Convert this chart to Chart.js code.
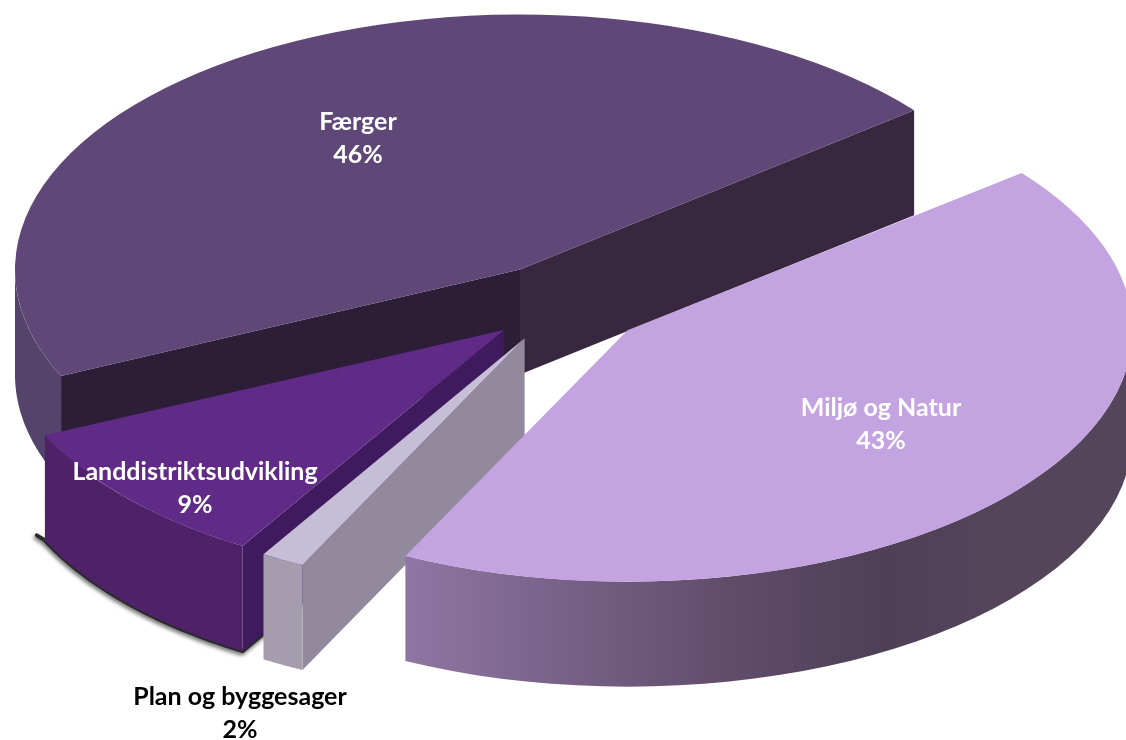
<!DOCTYPE html>
<html>
<head>
<meta charset="utf-8">
<style>
  html, body { margin: 0; background: #fff; }
  canvas { display: block; }
</style>
<script src="https://cdn.jsdelivr.net/npm/chart.js@4"></script>
</head>
<body>
<canvas id="pie" width="1126" height="740"></canvas>
<script>
const categories = ['Miljø og Natur', 'Plan og byggesager', 'Landdistriktsudvikling', 'Færger'];
const shares = [43, 1.4, 9.5, 46.1];
const shareLabels = ['43%', '2%', '9%', '46%'];

const topColors = ['#c3a3e0', '#c6bdd6', '#602a87', '#5f4878'];
const cutColors = [null, '#928a9c', '#3f1a5e', '#2c1e36'];
const backCutColor = '#37283f';
const labelColors = ['#fff', '#000', '#fff', '#fff'];
const labelSpots = [[881, 424], [240, 713], [195, 488], [358, 138]];
const squash = [0.498, 0.5, 0.5, 0.505];
const explode = [84, 78, 78, 80];

const DEPTH = 105;

function outerFill(ctx, i) {
  if (i === 0) {
    const g = ctx.createLinearGradient(407, 0, 1000, 0);
    g.addColorStop(0, '#8f76a3');
    g.addColorStop(0.55, '#5f4c6a');
    g.addColorStop(0.8, '#4f3f57');
    g.addColorStop(1, '#54455b');
    return g;
  }
  if (i === 1) return '#a59dae';
  if (i === 2) return '#4f2169';
  return '#54436a';
}

function centre(el, i) {
  const mid = (el.startAngle + el.endAngle) / 2;
  return {
    x: el.x + Math.cos(mid) * explode[i],
    y: el.y + Math.sin(mid) * explode[i] * squash[i]
  };
}

function rimPoint(c, el, a, i, drop) {
  return {
    x: c.x + Math.cos(a) * el.outerRadius,
    y: c.y + drop + Math.sin(a) * el.outerRadius * squash[i]
  };
}

function drawCut(ctx, c, el, a, i, fill) {
  const p = rimPoint(c, el, a, i, 0);
  ctx.fillStyle = fill;
  ctx.beginPath();
  ctx.moveTo(c.x, c.y);
  ctx.lineTo(p.x, p.y);
  ctx.lineTo(p.x, p.y + DEPTH);
  ctx.lineTo(c.x, c.y + DEPTH);
  ctx.closePath();
  ctx.fill();
}

function visibleRange(el) {
  let a0 = el.startAngle, a1 = el.endAngle;
  while (a0 < -Math.PI) { a0 += Math.PI * 2; a1 += Math.PI * 2; }
  return [Math.max(a0, 0), Math.min(a1, Math.PI)];
}

function drawOuter(ctx, c, el, i) {
  const [a0, a1] = visibleRange(el);
  if (a1 <= a0) return;
  ctx.fillStyle = outerFill(ctx, i);
  ctx.beginPath();
  for (let k = 0; k <= 40; k++) {
    const p = rimPoint(c, el, a0 + (a1 - a0) * k / 40, i, 0);
    ctx.lineTo(p.x, p.y);
  }
  for (let k = 40; k >= 0; k--) {
    const p = rimPoint(c, el, a0 + (a1 - a0) * k / 40, i, DEPTH);
    ctx.lineTo(p.x, p.y);
  }
  ctx.closePath();
  ctx.fill();
}

// the dark rim under the Landdistrikt slice
function drawRimShadow(ctx, c, el, i) {
  const [a0, a1] = visibleRange(el);
  ctx.save();
  ctx.strokeStyle = '#2b2b2b';
  ctx.lineWidth = 4;
  ctx.lineCap = 'round';
  ctx.shadowColor = 'rgba(0,0,0,0.7)';
  ctx.shadowBlur = 4;
  ctx.shadowOffsetX = -1;
  ctx.shadowOffsetY = 2;
  ctx.beginPath();
  ctx.moveTo(c.x, c.y + DEPTH);
  for (let k = 0; k <= 40; k++) {
    const p = rimPoint(c, el, a0 + (a1 - a0) * k / 40, i, DEPTH);
    ctx.lineTo(p.x, p.y);
  }
  const end = rimPoint(c, el, a1, i, DEPTH);
  ctx.lineTo(end.x - 8, end.y - 5);
  ctx.stroke();
  ctx.restore();
}

const pie3d = {
  id: 'pie3d',
  beforeDatasetDraw(chart) {
    const ctx = chart.ctx;
    const arcs = chart.getDatasetMeta(0).data;
    // back to front: Færger, Landdistrikt, Plan, Miljø
    [3, 2, 1, 0].forEach(i => {
      const el = arcs[i], c = centre(el, i);
      if (i === 2) drawRimShadow(ctx, c, el, i);
      if (Math.cos(el.startAngle) < 0) drawCut(ctx, c, el, el.startAngle, i, cutColors[i]);
      if (Math.cos(el.endAngle) > 0) drawCut(ctx, c, el, el.endAngle, i, backCutColor);
      drawOuter(ctx, c, el, i);
    });
    arcs.forEach((el, i) => {
      const c = centre(el, i);
      ctx.save();
      ctx.translate(c.x, c.y);
      ctx.scale(1, squash[i]);
      ctx.translate(-el.x, -el.y);
      el.draw(ctx, chart.chartArea);
      ctx.restore();
    });
    return false;
  },
  afterDatasetsDraw(chart) {
    const ctx = chart.ctx;
    ctx.save();
    ctx.font = 'bold 25px Lato';
    ctx.textAlign = 'center';
    ctx.textBaseline = 'middle';
    categories.forEach((name, i) => {
      const [x, y] = labelSpots[i];
      ctx.fillStyle = labelColors[i];
      ctx.fillText(name, x, y - 16);
      ctx.fillText(shareLabels[i], x, y + 17);
    });
    ctx.restore();
  }
};

new Chart(document.getElementById('pie'), {
  type: 'pie',
  data: {
    labels: categories,
    datasets: [{
      data: shares,
      backgroundColor: topColors,
      borderWidth: 0
    }]
  },
  options: {
    responsive: false,
    animation: false,
    rotation: 51.3,
    radius: 505,
    layout: { padding: { right: 2, bottom: 132 } },
    plugins: { legend: { display: false }, tooltip: { enabled: false } }
  },
  plugins: [pie3d]
});
</script>
</body>
</html>
